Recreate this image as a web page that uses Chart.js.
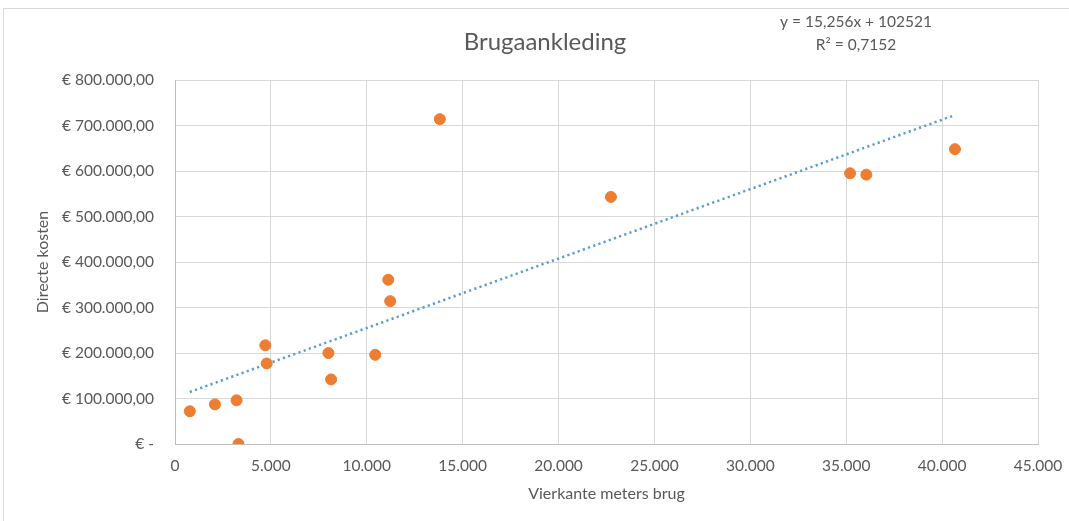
<!DOCTYPE html>
<html>
<head>
<meta charset="utf-8">
<script src="https://cdn.jsdelivr.net/npm/chart.js@4"></script>
<style>
  html, body { margin: 0; padding: 0; background: #fff; }
  #wrap { width: 1069px; height: 521px; position: relative; }
</style>
</head>
<body>
<div id="wrap"><canvas id="grafiek"></canvas></div>
<script>
// ========== DATA ==========
const vierkanteMeters = [773, 2080, 3210, 3310, 4710, 4780, 8000, 8140, 10440, 11120, 11220, 13810, 22730, 35200, 36050, 40670];
const directeKosten = [72000, 87000, 96000, 0, 217000, 177000, 200000, 142000, 196000, 361000, 314000, 714000, 543000, 595000, 592000, 648000];

// trendlijn zoals in Excel weergegeven
const helling = 15.256;
const snijpunt = 102521;
const vergelijking = ['y = 15,256x + 102521', 'R² = 0,7152'];
const titel = 'Brugaankleding';

const xTicks = { min: 0, max: 45000, step: 5000 };
const yTicks = { min: 0, max: 800000, step: 100000 };

const FONT = 'Lato, "Open Sans", sans-serif';
const GRIJS = '#595959';

// ========== HULPFUNCTIES ==========
function duizendtal(n) {
  return String(Math.round(n)).replace(/\B(?=(\d{3})+(?!\d))/g, '.');
}
function euro(n) {
  if (n === 0) return '€ -';
  return '€ ' + duizendtal(n) + ',00';
}

const punten = vierkanteMeters.map((x, i) => ({ x: x, y: directeKosten[i] }));
const xMin = Math.min(...vierkanteMeters);
const xMax = Math.max(...vierkanteMeters);
const trendlijn = [xMin, xMax].map(x => ({ x: x, y: helling * x + snijpunt }));

// kader, titel en vergelijking tekenen
const extras = {
  id: 'extras',
  beforeDraw(chart) {
    const ctx = chart.ctx;
    ctx.save();
    ctx.strokeStyle = '#D9D9D9';
    ctx.lineWidth = 1;
    ctx.strokeRect(3.5, 8.5, 2000, 2000);
    ctx.restore();
  },
  afterDraw(chart) {
    const ctx = chart.ctx;
    ctx.save();
    ctx.fillStyle = GRIJS;
    ctx.textAlign = 'center';
    ctx.textBaseline = 'middle';
    ctx.font = '24px ' + FONT;
    ctx.fillText(titel, 545, 42);
    ctx.font = '15.5px ' + FONT;
    ctx.fillText(vergelijking[0], 856, 22);
    ctx.fillText(vergelijking[1], 856, 45);
    ctx.restore();
  }
};

new Chart(document.getElementById('grafiek'), {
  type: 'scatter',
  data: {
    datasets: [
      {
        label: 'Directe kosten',
        data: punten,
        backgroundColor: '#ED7D31',
        borderColor: '#ED7D31',
        pointRadius: 5.5,
        pointHoverRadius: 5.5,
        order: 1
      },
      {
        type: 'line',
        label: 'Trendlijn',
        data: trendlijn,
        borderColor: '#5B9BD5',
        borderWidth: 2.5,
        borderDash: [2.2, 3.3],
        pointRadius: 0,
        fill: false,
        order: 2
      }
    ]
  },
  plugins: [extras],
  options: {
    responsive: true,
    maintainAspectRatio: false,
    animation: false,
    layout: { padding: { left: 0, right: 31, top: 80, bottom: 0 } },
    plugins: {
      legend: { display: false },
      tooltip: { enabled: false },
      title: { display: false }
    },
    scales: {
      x: {
        type: 'linear',
        min: xTicks.min,
        max: xTicks.max,
        afterFit(scale) {
          scale.height = 77;
          scale.paddingLeft = 0;
          scale.paddingRight = 0;
        },
        ticks: {
          stepSize: xTicks.step,
          color: GRIJS,
          font: { family: FONT, size: 15.5 },
          padding: 13,
          callback: v => duizendtal(v)
        },
        grid: { color: '#D9D9D9', drawTicks: false },
        border: { color: '#BFBFBF' },
        title: {
          display: true,
          text: 'Vierkante meters brug',
          color: GRIJS,
          font: { family: FONT, size: 16 },
          padding: { bottom: 17.4 }
        }
      },
      y: {
        type: 'linear',
        min: yTicks.min,
        max: yTicks.max,
        afterFit(scale) {
          scale.width = 175;
          scale.paddingTop = 0;
          scale.paddingBottom = 0;
        },
        ticks: {
          stepSize: yTicks.step,
          color: GRIJS,
          font: { family: FONT, size: 15.5 },
          padding: 21,
          callback: v => euro(v)
        },
        grid: { color: '#D9D9D9', drawTicks: false },
        border: { color: '#BFBFBF' },
        title: {
          display: true,
          text: 'Directe kosten',
          color: GRIJS,
          font: { family: FONT, size: 16 },
          padding: { top: 33.4 }
        }
      }
    }
  }
});
</script>
</body>
</html>
